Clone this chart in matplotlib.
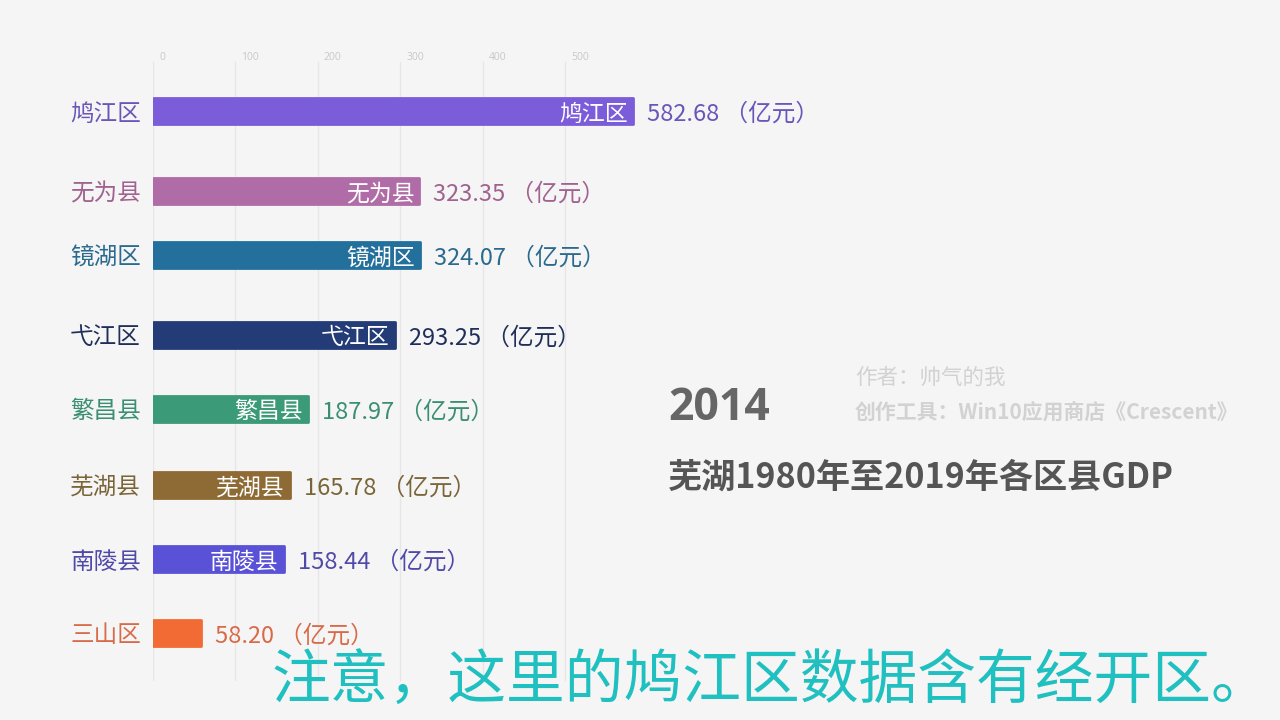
import matplotlib
matplotlib.use("Agg")
import matplotlib.pyplot as plt

plt.rcParams['font.family'] = ['Noto Sans CJK SC', 'DejaVu Sans']

# ---- data ----
districts = ['鸠江区', '无为县', '镜湖区', '弋江区', '繁昌县', '芜湖县', '南陵县', '三山区']
gdp = [582.68, 323.35, 324.07, 293.25, 187.97, 165.78, 158.44, 58.20]
ticks = [0, 100, 200, 300, 400, 500]
tick_labels = ['0', '100', '200', '300', '400', '500']
year = '2014'
title = '芜湖1980年至2019年各区县GDP'
author = '作者：帅气的我'
tool = '创作工具：Win10应用商店《Crescent》'
note = '注意，这里的鸠江区数据含有经开区。'
unit = '（亿元）'

# ---- styling / layout ----
bar_colors = ['#7b5cd9', '#b06ca6', '#23709c', '#233c78', '#3b9a77', '#8e6a34', '#5a52d6', '#f26b35']
text_colors = ['#6a55b8', '#a0628f', '#2a6a8e', '#1f2f5a', '#3a8f73', '#7a6538', '#4f4aa8', '#d96a48']
slot_y = [111, 191, 255, 335, 409, 485, 559, 633]   # pixel rows (animation frame)
bg = '#f5f5f5'
dy = 3  # text vertical nudge (px)

W, H = 1280, 720
fig = plt.figure(figsize=(12.8, 7.2), dpi=100, facecolor=bg)
x0_px = 153
px_per_unit = 0.824
xmax = 700
ax = fig.add_axes([x0_px / W, 0, xmax * px_per_unit / W, 1])
ax.set_xlim(0, xmax)
ax.set_ylim(H, 0)
ax.axis('off')
ax.patch.set_alpha(0)

# gridlines and tick labels
for t, lab in zip(ticks, tick_labels):
    ax.plot([t, t], [62, 680], color='#e6e6e6', lw=1.0, zorder=0)
    ax.text(t + 6 / px_per_unit, 57, lab, fontsize=7.5, color='#c8c8c8',
            ha='left', va='center', family=['Open Sans', 'DejaVu Sans'])

bars = ax.barh(slot_y, gdp, height=26, color=bar_colors, left=0, zorder=2)
for b, c in zip(bars, bar_colors):
    b.set_edgecolor(c)
    b.set_linewidth(2)
    b.set_joinstyle('round')

for name, v, y, tc in zip(districts, gdp, slot_y, text_colors):
    ax.text(-12 / px_per_unit, y + dy, name, ha='right', va='center', fontsize=17, color=tc)
    if v > 100:
        ax.text(v - 5 / px_per_unit, y + dy, name, ha='right', va='center', fontsize=16.5,
                color='white', zorder=3)
    ax.text(v + 14 / px_per_unit, y + dy, f'{v:.2f} {unit}', ha='left', va='center',
            fontsize=17, color=tc)

fig.text(668 / W, 1 - (405 + dy) / H, year, fontsize=32, fontweight='bold', color='#666666',
         ha='left', va='center', family=['Open Sans', 'DejaVu Sans'])
fig.text(668 / W, 1 - (474 + dy) / H, title, fontsize=24.6, fontweight='bold', color='#555555',
         ha='left', va='center')
fig.text(855 / W, 1 - (375 + dy) / H, author, fontsize=15.5, color='#d2d2d2', ha='left', va='center')
fig.text(855 / W, 1 - (409 + dy) / H, tool, fontsize=15, fontweight='bold', color='#d2d2d2',
         ha='left', va='center')
fig.text(272 / W, 1 - (678 + dy) / H, note, fontsize=42.3, color='#20c0c0', ha='left',
         va='center')

fig.savefig('out.png', dpi=100, facecolor=bg)
